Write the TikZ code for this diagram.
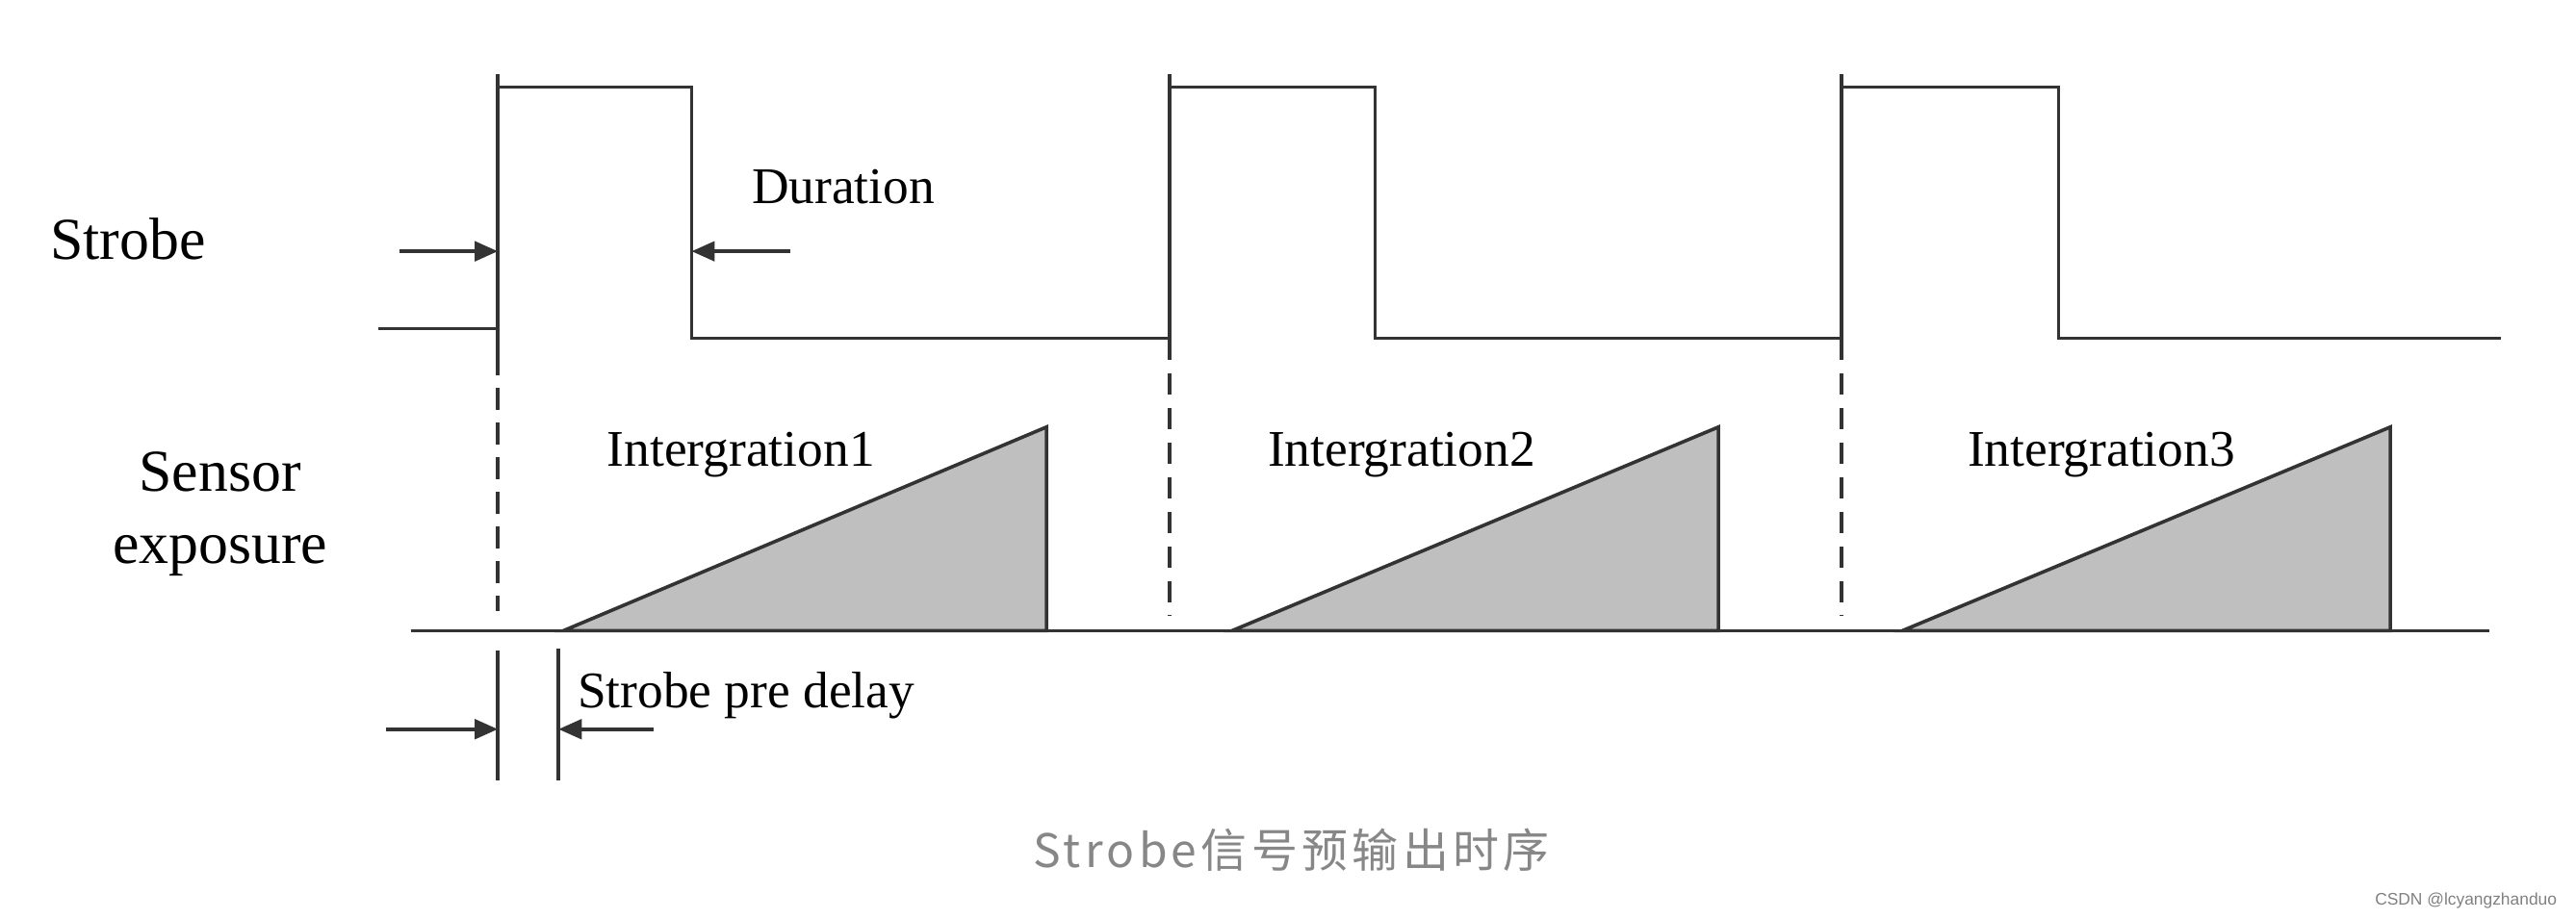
\documentclass[tikz,border=0pt]{standalone}
\usepackage{fontspec}
\setmainfont{Liberation Serif}
\newfontfamily\cjk[LetterSpace=9]{Noto Sans CJK SC}
\newfontfamily\wmfont{Liberation Sans}
\usetikzlibrary{arrows.meta}

\tikzset{
  wave/.style={line width=0.6pt, black!80},
  guide/.style={wave, dash pattern=on 3.8pt off 2.2pt},
  dimarrow/.style={wave, -{Triangle[length=4pt, width=3.4pt]}},
  biglabel/.style={font=\fontsize{10.3}{12.4}\selectfont, align=center, inner sep=0pt},
  smalllabel/.style={font=\fontsize{8.9}{10.5}\selectfont, inner sep=0pt},
}

\begin{document}
\begin{tikzpicture}
  \useasboundingbox (0,0) rectangle (15.68,5.59);
  \def\yhi{5.06}\def\ylo{3.53}\def\ytick{5.14}\def\ybase{1.75}\def\yramp{2.99}
  % labels
  \node[biglabel, anchor=base west] (strobe) at (0.30,4.01) {Strobe};
  \node[biglabel] (sensor) at (1.34,2.46) {Sensor\\exposure};
  % strobe signal
  \draw[wave] (2.30,3.59) -- (3.03,3.59);
  \draw[wave] (3.03,3.44) -- (3.03,\ytick);
  \foreach \i/\r/\f/\n in {1/3.03/4.21/7.12, 2/7.12/8.37/11.21, 3/11.21/12.53/15.22} {
    \coordinate (rise\i) at (\r,\yhi);
    \coordinate (fall\i) at (\f,\yhi);
    \draw[wave] (rise\i) -- (fall\i) -- (\f,\ylo) -- (\n,\ylo);
  }
  \foreach \r in {7.12,11.21}
    \draw[wave] (\r,\ylo) -- (\r,\ytick);
  % dashed guides
  \draw[guide] (3.03,3.44) -- (3.03,1.87);
  \draw[guide] (7.12,\ylo) -- (7.12,1.84);
  \draw[guide] (11.21,\ylo) -- (11.21,1.84);
  % sensor exposure
  \draw[wave] (2.50,\ybase) -- (15.15,\ybase);
  \foreach \a/\b in {3.43/6.37, 7.50/10.46, 11.58/14.55}
    \filldraw[wave, fill=black!25] (\a,\ybase) -- (\b,\yramp) -- (\b,\ybase) -- cycle;
  \node[smalllabel, anchor=base west] (intg1) at (3.69,2.75) {Intergration1};
  \node[smalllabel, anchor=base west] (intg2) at (7.71,2.75) {Intergration2};
  \node[smalllabel, anchor=base west] (intg3) at (11.97,2.75) {Intergration3};
  % duration
  \node[smalllabel, anchor=base west] (dur) at (4.57,4.35) {Duration};
  \coordinate (durl) at (2.43,4.06);
  \coordinate (durr) at (4.81,4.06);
  \draw[dimarrow] (durl) -- (durl -| rise1);
  \draw[dimarrow] (durr) -- (durr -| fall1);
  % pre delay
  \coordinate (pdl) at (3.03,1.63);
  \coordinate (pdr) at (3.40,1.64);
  \draw[wave] (pdl) -- ++(0,-0.79);
  \draw[wave] (pdr) -- ++(0,-0.80);
  \node[smalllabel, anchor=base west] (delay) at (3.51,1.28) {Strobe pre delay};
  \coordinate (dell) at (2.35,1.15);
  \coordinate (delr) at (3.98,1.15);
  \draw[dimarrow] (dell) -- (dell -| pdl);
  \draw[dimarrow] (delr) -- (delr -| pdr);
  % caption
  \node[text=black!47, font=\cjk\fontsize{8}{10}\selectfont, anchor=base] (caption) at (7.86,0.31) {Strobe信号预输出时序};
  \node[text=black!50, font=\wmfont\fontsize{2.9}{4}\selectfont, inner sep=0pt, anchor=base east] (mark) at (15.57,0.08) {CSDN @lcyangzhanduo};
\end{tikzpicture}
\end{document}
